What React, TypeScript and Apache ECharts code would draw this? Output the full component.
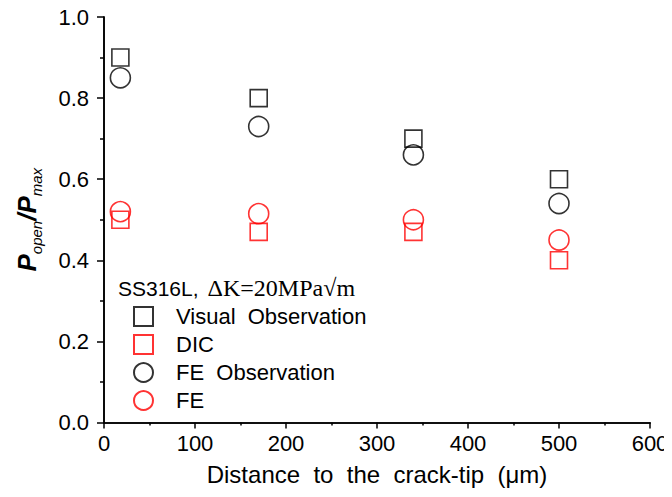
import React, { useEffect, useRef } from "react";
import * as echarts from "echarts";

const distances = [18, 170, 340, 500];
const visualObs = [0.9, 0.8, 0.7, 0.6];
const dic = [0.5, 0.47, 0.47, 0.4];
const feObs = [0.85, 0.73, 0.66, 0.54];
const fe = [0.52, 0.515, 0.5, 0.45];
const seriesNames = ["Visual Observation", "DIC", "FE Observation", "FE"];
const xTitle = "Distance to the crack-tip (\u03bcm)";
const legendTitleA = "SS316L,";
const legendTitleB = "\u0394K=20MPa\u221am";

const pairs = (vals: number[]) => distances.map((d, i) => [d, vals[i]]);
const wideSpaces = (s: string, sp: string) => s.split(" ").join(sp);

export default function App() {
  const ref = useRef<HTMLDivElement>(null);
  useEffect(() => {
    if (!ref.current) return;
    const chart = echarts.init(ref.current, undefined, { renderer: "svg" });
    const font = "Liberation Sans, Arial, sans-serif";
    const mk = (name: string, vals: number[], symbol: string, size: number, color: string) => ({
      name,
      type: "scatter",
      data: pairs(vals),
      symbol,
      symbolSize: size,
      itemStyle: { color: "rgba(0,0,0,0)", borderColor: color, borderWidth: 1.6 },
      emphasis: { disabled: true },
    });
    const axisLine = { show: true, lineStyle: { color: "#000", width: 1.6 } };
    chart.setOption({
      animation: false,
      backgroundColor: "#fff",
      grid: { left: 104, right: 22, top: 17, bottom: 74.5 },
      xAxis: [
        {
          type: "value",
          min: 0,
          max: 600,
          interval: 100,
          position: "bottom",
          axisLine,
          axisTick: { show: true, length: 6, lineStyle: { color: "#000", width: 1.5 } },
          minorTick: { show: true, splitNumber: 2, length: 3, lineStyle: { color: "#000", width: 1.5 } },
          splitLine: { show: false },
          axisLabel: { color: "#000", fontSize: 22, fontFamily: font, margin: 10 },
          name: wideSpaces(xTitle, "\u00A0\u00A0"),
          nameLocation: "middle",
          nameGap: 40,
          nameTextStyle: { color: "#000", fontSize: 24, fontFamily: font },
        },
        {
          type: "value",
          min: 0,
          max: 600,
          position: "top",
          axisLine,
          axisTick: { show: false },
          axisLabel: { show: false },
          splitLine: { show: false },
        },
      ],
      yAxis: [
        {
          type: "value",
          min: 0,
          max: 1,
          interval: 0.2,
          position: "left",
          axisLine,
          axisTick: { show: true, length: 7, lineStyle: { color: "#000", width: 1.5 } },
          minorTick: { show: true, splitNumber: 2, length: 4, lineStyle: { color: "#000", width: 1.5 } },
          splitLine: { show: false },
          axisLabel: {
            color: "#000",
            fontSize: 22,
            fontFamily: font,
            margin: 15,
            formatter: (v: number) => v.toFixed(1),
          },
          name: "{p|P}{s|open}{p|/P}{s|max}",
          nameLocation: "middle",
          nameGap: 60,
          nameTextStyle: {
            rich: {
              p: { fontSize: 26, fontWeight: "bold", fontStyle: "italic", fontFamily: font, color: "#000", lineHeight: 34, verticalAlign: "middle" },
              s: { fontSize: 15, fontStyle: "italic", fontFamily: font, color: "#000", lineHeight: 34, verticalAlign: "bottom" },
            },
          },
        },
        {
          type: "value",
          min: 0,
          max: 1,
          position: "right",
          axisLine,
          axisTick: { show: false },
          axisLabel: { show: false },
          splitLine: { show: false },
        },
      ],
      legend: {
        orient: "vertical",
        left: 133,
        top: 305.5,
        padding: 0,
        itemWidth: 19,
        itemHeight: 19,
        itemGap: 6,
        data: seriesNames,
        formatter: (n: string) => wideSpaces(n, "\u00A0\u00A0"),
        textStyle: { color: "#000", fontSize: 22, fontFamily: font, padding: [0, 0, 0, 18] },
      },
      graphic: [
        {
          type: "text",
          left: 118,
          top: 276,
          style: {
            text: "{a|" + legendTitleA + "}{g| }{b|" + legendTitleB + "}",
            rich: {
              a: { fontSize: 21, fontFamily: font, fill: "#000" },
              g: { fontSize: 21, fontFamily: font, width: 9 },
              b: { fontSize: 24, fontFamily: "Liberation Serif, Times New Roman, serif", fill: "#000" },
            },
          },
        },
      ],
      series: [
        mk(seriesNames[0], visualObs, "rect", 17, "#000"),
        mk(seriesNames[1], dic, "rect", 17, "#ff0000"),
        mk(seriesNames[2], feObs, "circle", 20, "#000"),
        mk(seriesNames[3], fe, "circle", 20, "#ff0000"),
      ],
    });
    return () => chart.dispose();
  }, []);
  return <div ref={ref} style={{ width: 672, height: 497, margin: -8 }} />;
}
